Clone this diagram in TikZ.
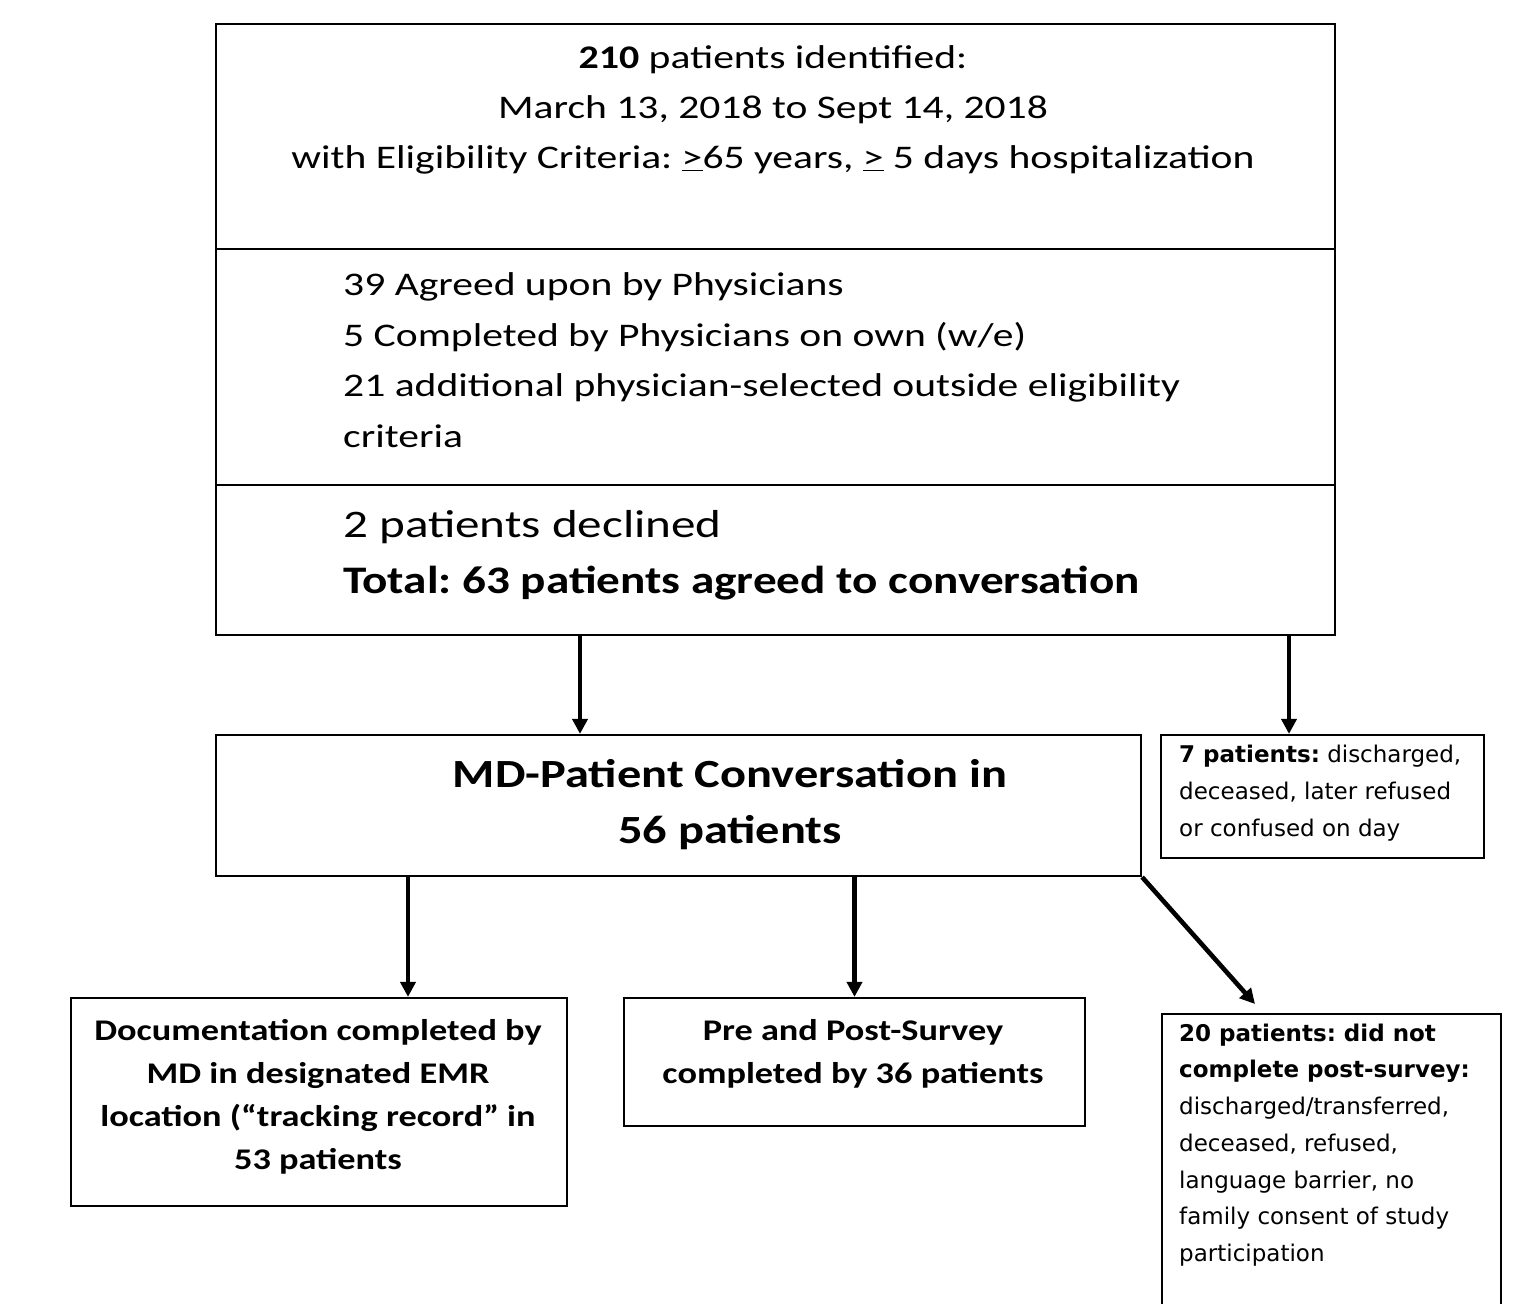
\documentclass[tikz,border=0pt]{standalone}
\usepackage{fontspec}
\setmainfont{Carlito}[FakeStretch=1.26,BoldFeatures={FakeStretch=1.21}]
\newfontfamily\sidefont{DejaVu Sans}
\usetikzlibrary{positioning}
\usetikzlibrary{arrows.meta}
\frenchspacing

\begin{document}
\begin{tikzpicture}[x=1pt,y=-1pt,
  box/.style={draw,line width=2.2pt,inner sep=0pt},
  txt/.style={inner sep=0pt},
  arr/.style={line width=4.6pt,-{Triangle[length=15pt,width=15pt]}},
  sidetxt/.style={txt,align=left,anchor=west,font=\sidefont\fontsize{23}{36.7}\selectfont}]
\clip (0,0) rectangle (1537,1304);
\fill[white] (0,0) rectangle (1537,1304);

% screening box, three parts
\node[box,minimum width=1119pt,minimum height=225pt] (top1) at (775.5,136.5) {};
\node[box,minimum width=1119pt,minimum height=236pt] (top2) at (775.5,367) {};
\node[box,minimum width=1119pt,minimum height=150pt] (top3) at (775.5,560) {};
\node[txt,align=center,font=\fontsize{33}{50}\selectfont] (ident) at (773,110)
  {\textbf{210} patients identified:\\
   March 13, 2018 to Sept 14, 2018\\
   with Eligibility Criteria: \underline{>}65 years, \underline{>} 5 days hospitalization};
\node[txt,align=left,anchor=west,font=\fontsize{33}{50.5}\selectfont] (agreed) at (343,360)
  {39 Agreed upon by Physicians\\
   5 Completed by Physicians on own (w/e)\\
   21 additional physician-selected outside eligibility\\
   criteria};
\node[txt,align=left,anchor=west,font=\fontsize{39}{56}\selectfont] (total) at (343,555)
  {2 patients declined\\
   \textbf{Total: 63 patients agreed to conversation}};

% second row
\node[box,minimum width=925pt,minimum height=141pt] (md) at (678.5,805.5) {};
\node[txt,align=center,font=\bfseries\fontsize{40}{56}\selectfont] (mdtxt) at (730,805)
  {MD-Patient Conversation in\\56 patients};
\node[box,minimum width=323pt,minimum height=123pt] (seven) at (1322.5,796.5) {};
\node[sidetxt] (seventxt) at (1179,793)
  {\textbf{7 patients:} discharged,\\
   deceased, later refused\\
   or confused on day};

% third row
\node[box,minimum width=496pt,minimum height=208pt] (doc) at (319,1102) {};
\node[txt,align=center,font=\bfseries\fontsize{30}{43}\selectfont] (doctxt) at (318,1097)
  {Documentation completed by\\
   MD in designated EMR\\
   location (“tracking record” in\\
   53 patients};
\node[box,minimum width=461pt,minimum height=128pt] (survey) at (854.5,1062) {};
\node[txt,align=center,font=\bfseries\fontsize{30}{43}\selectfont] (surveytxt) at (853,1054)
  {Pre and Post-Survey\\
   completed by 36 patients};
\node[box,minimum width=339pt,minimum height=316pt] (twenty) at (1331.5,1172) {};
\node[sidetxt] (twentytxt) at (1179,1145)
  {\textbf{20 patients: did not}\\
   \textbf{complete post-survey:}\\
   discharged/transferred,\\
   deceased, refused,\\
   language barrier, no\\
   family consent of study\\
   participation};

% arrows
\coordinate (xa) at (580,0);
\coordinate (xb) at (1289,0);
\coordinate (xc) at (408,0);
\coordinate (tip20) at (1255,1004);
\draw[arr] (top3.south -| xa) -- (md.north -| xa);
\draw[arr] (top3.south -| xb) -- (seven.north -| xb);
\draw[arr] (md.south -| xc) -- (doc.north -| xc);
\draw[arr] (md.south -| survey.north) -- (survey.north);
\draw[arr] (md.south east) -- (tip20);
\end{tikzpicture}
\end{document}
